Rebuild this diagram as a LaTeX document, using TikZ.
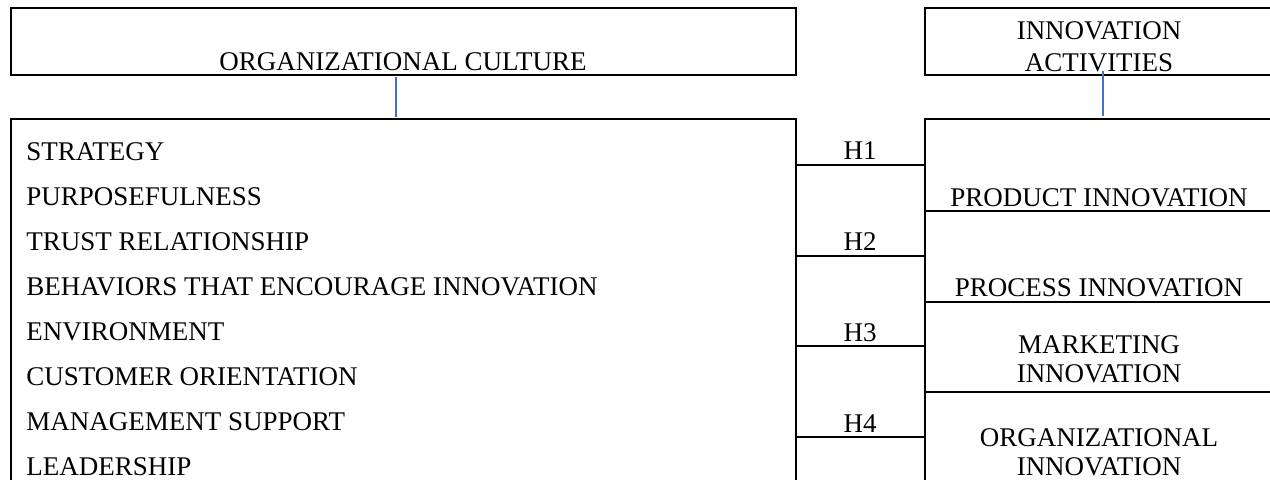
\documentclass[tikz,border=0pt]{standalone}
\usepackage{fontspec}
\setmainfont{Liberation Serif}
\usetikzlibrary{fit}
\definecolor{linkblue}{RGB}{68,114,196}
\begin{document}
\begin{tikzpicture}[x=0.5pt,y=-0.5pt,
  frame/.style={draw=black, line width=1pt, inner sep=0pt},
  rule/.style={draw=black, line width=1pt},
  lbl/.style={inner sep=0pt, font=\fontsize{13.5}{14.6}\selectfont},
  conn/.style={draw=linkblue, line width=0.6pt}]
\useasboundingbox (0,0) rectangle (1270,480);
\clip (0,0) rectangle (1270,480);

% header boxes
\node[frame, fit={(11,8) (796,75)}] (oc) {};
\node[frame, fit={(925,8) (1290,75)}] (ia) {};
\node[lbl, anchor=base] (octxt) at (403,71) {ORGANIZATIONAL CULTURE};
\node[lbl, anchor=north, align=center] (iatxt) at (1099,21) {INNOVATION\\[1.5pt]ACTIVITIES};

% body boxes (open at the lower edge)
\node[frame, fit={(11,119) (796,500)}] (dims) {};
\node[frame, fit={(925,119) (1290,500)}] (acts) {};

% links between headers and bodies
\coordinate (ocx) at (396,0);
\draw[conn, shorten <=0.5pt, shorten >=0.5pt] (oc.south -| ocx) -- (dims.north -| ocx);
\coordinate (iaA) at (1103,71);
\coordinate (iaB) at (1103,116);
\draw[conn] (iaA) -- (iaB);

% culture dimensions
\foreach \t [count=\i from 0] in {STRATEGY, PURPOSEFULNESS, TRUST RELATIONSHIP,
    BEHAVIORS THAT ENCOURAGE INNOVATION, ENVIRONMENT, CUSTOMER ORIENTATION,
    MANAGEMENT SUPPORT, LEADERSHIP}
  \node[lbl, anchor=base west] (dim\i) at (26,161+44.9*\i) {\t};

% hypotheses column
\foreach \h/\b/\r in {1/160/165, 2/251/256, 3/342/346, 4/433/437} {
  \node[lbl, anchor=base] (h\h) at (860,\b) {H\h};
  \draw[rule] (796,\r) -- (925,\r);
}

% innovation activities
\node[lbl, anchor=base] (prod) at (1099,207) {PRODUCT INNOVATION};
\node[lbl, anchor=base] (proc) at (1099,297) {PROCESS INNOVATION};
\node[lbl, anchor=north, align=center] (mark) at (1099,335) {MARKETING\\INNOVATION};
\node[lbl, anchor=north, align=center] (orgi) at (1099,428) {ORGANIZATIONAL\\INNOVATION};
\foreach \r in {211, 302, 392}
  \draw[rule] (925,\r) -- (1290,\r);
\end{tikzpicture}
\end{document}
